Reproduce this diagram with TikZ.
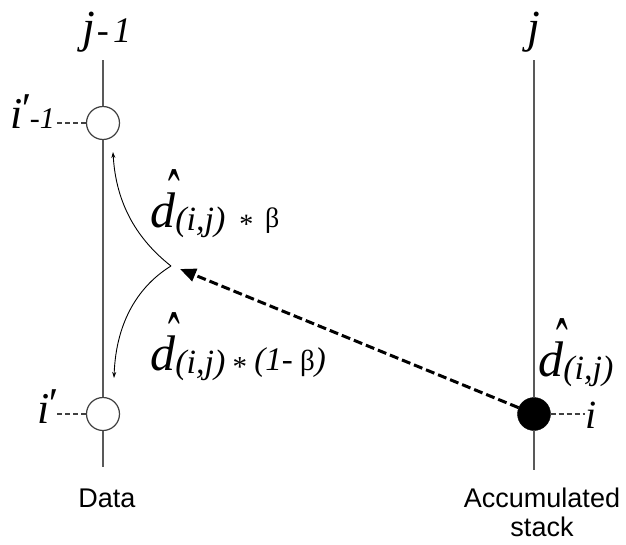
\documentclass[tikz,border=0pt]{standalone}
\usepackage{fontspec}
\usepackage{graphicx}
\setmainfont{Liberation Serif}
\newfontfamily\arialf{Liberation Sans}
\usetikzlibrary{arrows.meta}

% d with a hat, and the (i,j) index
\newcommand{\dhatx}{\makebox[0pt][l]{\hspace{0.36em}\raisebox{0.07em}{\scalebox{0.7}[1.55]{\char"02C6}}}\textit{d}}
\newcommand{\dlabelx}{{\fontsize{50}{52}\selectfont\dhatx}{\fontsize{34}{36}\selectfont\raisebox{-0.09em}{\textit{(i,j)}}}}
\newcommand{\astx}{\raisebox{-0.22em}{*}}

\tikzset{
  vline/.style={draw=black!65, line width=1.2pt},
  opencirc/.style={circle, draw=black!75, fill=white, line width=1.2pt, minimum size=33pt, inner sep=0pt},
  fullcirc/.style={circle, draw=black, fill=black, minimum size=33pt, inner sep=0pt},
  leader/.style={draw=black!75, line width=1.1pt, dash pattern=on 5pt off 3pt},
  splitarrow/.style={draw=black, line width=0.9pt, -{Stealth[length=6pt,width=4pt]}},
  transfer/.style={draw=black, line width=3pt, dash pattern=on 9pt off 4pt, -{Triangle[length=16pt,width=13pt]}},
  serlab/.style={inner sep=0pt, font=\fontsize{46}{50}\selectfont},
  sanslab/.style={inner sep=0pt, font=\arialf\fontsize{27}{29}\selectfont, align=center},
  formula/.style={inner sep=0pt, anchor=base west}
}

\begin{document}
\begin{tikzpicture}[x=1pt,y=-1pt]
\useasboundingbox (0,0) rectangle (626,544);

% column labels
\node[serlab, anchor=base west] (jm1) at (82,42) {\textit{j}{\fontsize{36}{38}\selectfont\hspace{0.05em}-\hspace{0.12em}\textit{1}}};
\node[serlab, anchor=base] (jj) at (534,42) {\textit{j}};

% nodes on the columns
\node[opencirc] (c1) at (103,123) {};
\node[opencirc] (c2) at (103,414) {};
\node[fullcirc] (cf) at (534,414) {};

\coordinate (Ltop) at (103,60);
\coordinate (Lbot) at (103,467);
\coordinate (Rtop) at (534,60);
\coordinate (Rbot) at (534,470);

\draw[vline] (Ltop) -- (c1) -- (c2) -- (Lbot);
\draw[vline] (Rtop) -- (cf) -- (Rbot);

% row labels
\node[serlab, anchor=base east, font=\fontsize{44}{46}\selectfont] (li1) at (55,128) {\textit{i}\hspace{-0.06em}\raisebox{0.1em}{\textit{\char"2032}}{\fontsize{30}{32}\selectfont-\textit{1}}};
\node[serlab, anchor=base east, font=\fontsize{44}{46}\selectfont] (li2) at (57,423) {\textit{i}\hspace{-0.06em}\raisebox{0.1em}{\textit{\char"2032}}};
\node[serlab, anchor=base west, font=\fontsize{40}{42}\selectfont] (li) at (585,428) {\textit{i}};

\draw[leader] (c1.west) -- (c1.west -| li1.east);
\draw[leader] (c2.west) -- (c2.west -| li2.east);
\draw[leader] (cf.east) -- (cf.east -| li.west);

% split point
\coordinate (apex) at (171,266);
\coordinate (tipU) at (113,152);
\coordinate (tipD) at (114,378);
\coordinate (arrEnd) at (180,269);

\draw[splitarrow] (apex) .. controls (138,240) and (116,205) .. (tipU);
\draw[splitarrow] (apex) .. controls (140,285) and (116,320) .. (tipD);

\draw[transfer] (cf) -- (arrEnd);

% formulas
\node[formula] (fb) at (150,227) {\dlabelx{\fontsize{28}{30}\selectfont\ \ \astx\ \,β}};
\node[formula] (fa) at (150,370) {\dlabelx{\fontsize{29}{30}\selectfont\ \astx\ {\fontsize{33}{34}\selectfont\textit{(1-}}\ β{\fontsize{33}{34}\selectfont\textit{)}}}};
\node[formula] (fr) at (538,376) {\dlabelx};

% bottom labels
\node[sanslab, anchor=base] (data) at (107,507) {Data};
\node[sanslab, anchor=north] (acc) at (542,488) {Accumulated\\stack};

\end{tikzpicture}
\end{document}
